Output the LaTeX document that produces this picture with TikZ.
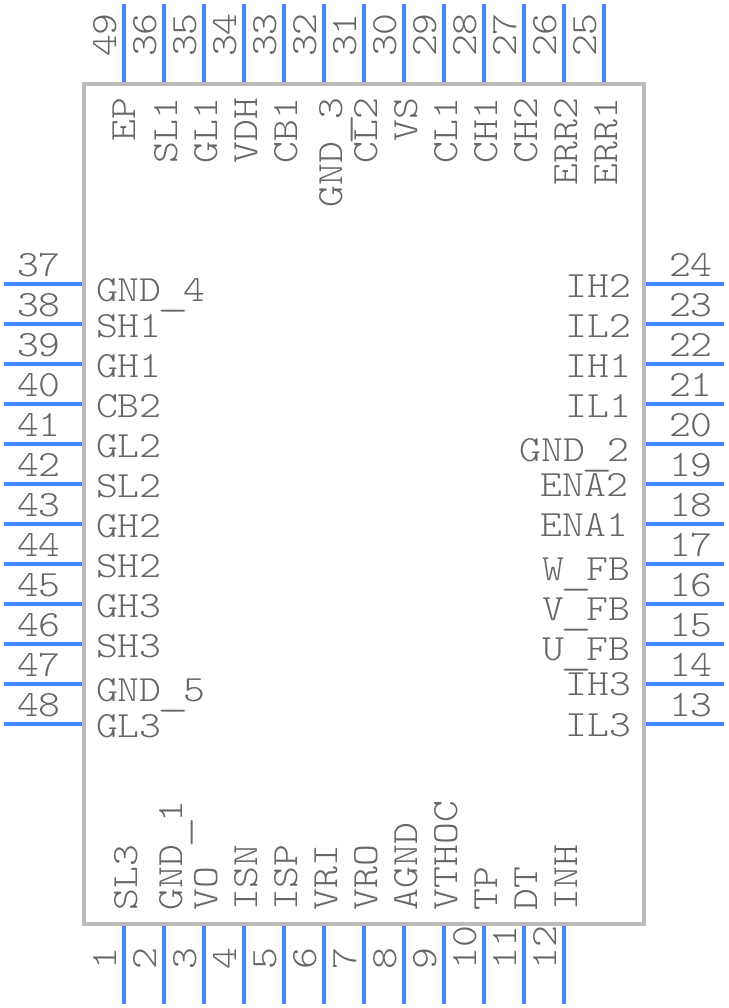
\documentclass[tikz,border=0pt]{standalone}
\usepackage{fontspec}
\setmonofont[FakeStretch=1.125]{Latin Modern Mono Light}
\definecolor{pincol}{HTML}{4488FF}
\definecolor{boxcol}{HTML}{BBBBBB}
\definecolor{txtcol}{HTML}{666666}
\newcommand{\usc}{\makebox[21.85pt]{\raisebox{-4pt}{\hspace{2pt}\scalebox{1.45}[1]{\_}}}}
\tikzset{
  x=1pt,y=-1pt,
  pinline/.style={draw=pincol,line width=4pt},
  bodybox/.style={draw=boxcol,line width=4pt},
  lbl/.style={inner sep=0pt,outer sep=0pt,text=txtcol,font=\ttfamily\fontsize{37}{37}\selectfont},
  lw/.style={lbl,anchor=base west},
  le/.style={lbl,anchor=base east},
  tp/.style={lbl,rotate=90,anchor=base east},
  bt/.style={lbl,rotate=90,anchor=base west},
}
\begin{document}
\begin{tikzpicture}
\useasboundingbox (0,0) rectangle (728,1008);
\fill[white] (0,0) rectangle (728,1008);
\draw[bodybox] (84,84) rectangle (644,924);
% top pins
\foreach \n/\x in {49/124,36/164,35/204,34/244,33/284,32/324,31/364,30/404,29/444,28/484,27/524,26/564,25/604}{
  \coordinate (pa\n) at (\x,4); \coordinate (pb\n) at (\x,82);
  \draw[pinline] (pa\n) -- (pb\n);
  \node[bt] (num\n) at (\x-8,57) {\n};
}
% bottom pins
\foreach \n/\x in {1/124,2/164,3/204,4/244,5/284,6/324,7/364,8/404,9/444,10/484,11/524,12/564}{
  \coordinate (pa\n) at (\x,926); \coordinate (pb\n) at (\x,1004);
  \draw[pinline] (pa\n) -- (pb\n);
  \node[bt] (num\n) at (\x-8,969) {\n};
}
% left pins
\foreach \n/\y in {37/284,38/324,39/364,40/404,41/444,42/484,43/524,44/564,45/604,46/644,47/684,48/724}{
  \coordinate (pa\n) at (4,\y); \coordinate (pb\n) at (82,\y);
  \draw[pinline] (pa\n) -- (pb\n);
  \node[lw] (num\n) at (17,\y-8) {\n};
}
% right pins
\foreach \n/\y in {24/284,23/324,22/364,21/404,20/444,19/484,18/524,17/564,16/604,15/644,14/684,13/724}{
  \coordinate (pa\n) at (646,\y); \coordinate (pb\n) at (724,\y);
  \draw[pinline] (pa\n) -- (pb\n);
  \node[lw] (num\n) at (669,\y-8) {\n};
}
% top labels
\foreach \t/\x/\m in {EP/135/l49,SL1/177/l36,GL1/217/l35,VDH/257/l34,CB1/297/l33,GND\usc 3/342/l32,CL2/377/l31,VS/417/l30,CL1/457/l29,CH1/497/l28,CH2/537/l27,ERR2/577/l26,ERR1/617/l25}{
  \node[tp] (\m) at (\x,98) {\t};
}
% bottom labels
\foreach \t/\x/\m in {SL3/137/l1,GND\usc 1/182/l2,VO/217/l3,ISN/257/l4,ISP/297/l5,VRI/337/l6,VRO/377/l7,AGND/417/l8,VTHOC/457/l9,TP/497/l10,DT/537/l11,INH/577/l12}{
  \node[bt] (\m) at (\x,910) {\t};
}
% left labels
\foreach \t/\y/\m in {GND\usc 4/301/l37,SH1/337/l38,GH1/377/l39,CB2/417/l40,GL2/457/l41,SL2/497/l42,GH2/537/l43,SH2/577/l44,GH3/617/l45,SH3/657/l46,GND\usc 5/701/l47,GL3/737/l48}{
  \node[lw] (\m) at (96,\y) {\t};
}
% right labels
\foreach \t/\y/\x/\m in {IH2/297/631/l24,IL2/337/631/l23,IH1/377/631/l22,IL1/417/631/l21,GND\usc 2/461/629/l20,ENA2/496/628/l19,ENA1/536/628/l18,W\usc FB/580/630/l17,V\usc FB/620/630/l16,U\usc FB/660/630/l15,IH3/695/631/l14,IL3/736/631/l13}{
  \node[le] (\m) at (\x,\y) {\t};
}
\end{tikzpicture}
\end{document}
